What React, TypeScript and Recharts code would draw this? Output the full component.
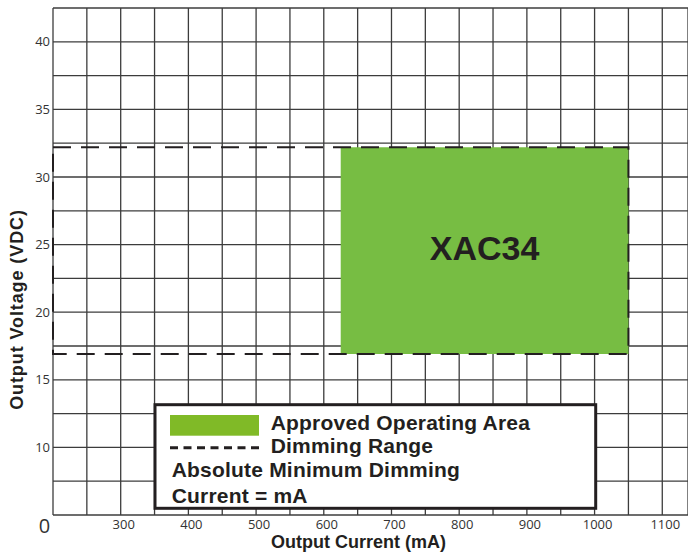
import React from 'react';
import { ComposedChart, XAxis, YAxis, CartesianGrid, ReferenceArea } from 'recharts';

// ---- data ----
const xDomain = [200, 1138];
const yDomain = [5, 42.5];
const xGridTicks = [200, 250, 300, 350, 400, 450, 500, 550, 600, 650, 700, 750, 800, 850, 900, 950, 1000, 1050, 1100];
const xLabelTicks = [300, 400, 500, 600, 700, 800, 900, 1000, 1100];
const originLabel = '0';
const yGridTicks = [5, 7.5, 10, 12.5, 15, 17.5, 20, 22.5, 25, 27.5, 30, 32.5, 35, 37.5, 40];
const yLabelTicks = [10, 15, 20, 25, 30, 35, 40];
const approvedCurrent = [625, 1050];
const approvedVoltage = [16.9, 32.2];
const dimmingCurrent = [200, 1050];
const dimmingVoltage = [16.9, 32.2];
const modelName = 'XAC34';
const xTitle = 'Output Current (mA)';
const yTitle = 'Output Voltage (VDC)';
const legendItems = ['Approved Operating Area', 'Dimming Range'];
const legendNote = ['Absolute Minimum Dimming', 'Current = mA'];

const TEXT = '#231f20';
const BOLD = 'Liberation Sans, Arial, sans-serif';
const TICKFONT = 'Open Sans, sans-serif';

const XTick = (props: any) => {
  const { x, y, payload } = props;
  const v = payload.value;
  if (v === xDomain[0]) {
    return (
      <text x={x - 8.5} y={y + 10} textAnchor="middle" fontSize={20} fontFamily={TICKFONT} fill="#333">
        {originLabel}
      </text>
    );
  }
  if (!xLabelTicks.includes(v)) return <g />;
  return (
    <text x={x + 3} y={y + 6} textAnchor="middle" fontSize={13} fontFamily={TICKFONT} fill="#333">
      {v}
    </text>
  );
};

const YTick = (props: any) => {
  const { x, y, payload } = props;
  const v = payload.value;
  if (!yLabelTicks.includes(v)) return <g />;
  return (
    <text x={x + 5} y={y} dy="0.36em" textAnchor="end" fontSize={13} fontFamily={TICKFONT} fill="#333">
      {v}
    </text>
  );
};

const XTitle = (props: any) => {
  const vb = props.viewBox;
  return (
    <text x={vb.x + vb.width / 2 - 12} y={vb.y + 33} textAnchor="middle" fontSize={18} fontWeight="bold" fontFamily={BOLD} fill={TEXT}>
      {xTitle}
    </text>
  );
};

const YTitle = (props: any) => {
  const vb = props.viewBox;
  const cx = 22.5;
  const cy = vb.y + vb.height / 2 + 48;
  return (
    <text x={cx} y={cy} transform={`rotate(-90 ${cx} ${cy})`} textAnchor="middle" fontSize={18} letterSpacing={0.9} fontWeight="bold" fontFamily={BOLD} fill={TEXT}>
      {yTitle}
    </text>
  );
};

const ModelLabel = (props: any) => {
  const vb = props.viewBox;
  return (
    <text x={vb.x + vb.width / 2} y={vb.y + vb.height / 2 + 9} textAnchor="middle" fontSize={34} fontWeight="bold" fontFamily={BOLD} fill={TEXT}>
      {modelName}
    </text>
  );
};

const LegendBox = () => (
  <svg width={450} height={113} style={{ position: 'absolute', left: 150, top: 400 }}>
    <rect x={5} y={4.7} width={440.7} height={103.6} fill="#fff" stroke={TEXT} strokeWidth={3} />
    <rect x={20} y={15} width={89} height={20.7} fill="#80ba27" />
    <line x1={20} x2={109} y1={47.7} y2={47.7} stroke={TEXT} strokeWidth={3} strokeDasharray="8 5.5" />
    <text x={120.7} y={30} fontSize={21} letterSpacing={0.2} fontWeight="bold" fontFamily={BOLD} fill={TEXT}>{legendItems[0]}</text>
    <text x={120.7} y={53} fontSize={21} letterSpacing={0.2} fontWeight="bold" fontFamily={BOLD} fill={TEXT}>{legendItems[1]}</text>
    <text x={21.7} y={77} fontSize={21} letterSpacing={0.2} fontWeight="bold" fontFamily={BOLD} fill={TEXT}>{legendNote[0]}</text>
    <text x={21.7} y={103} fontSize={21} letterSpacing={0.2} fontWeight="bold" fontFamily={BOLD} fill={TEXT}>{legendNote[1]}</text>
  </svg>
);

export default function App() {
  return (
    <div style={{ position: 'absolute', left: 0, top: 0, width: 688, height: 554, background: '#fff' }}>
      <ComposedChart width={688} height={554} data={[]} margin={{ top: 8, right: 0, bottom: 0, left: 0 }}>
        <CartesianGrid stroke="#3c3c3c" strokeWidth={1.3} />
        <XAxis
          type="number"
          dataKey="x"
          domain={xDomain}
          ticks={xGridTicks}
          tick={<XTick />}
          tickLine={false}
          axisLine={false}
          height={39}
          allowDataOverflow
          interval={0}
          label={<XTitle />}
        />
        <YAxis
          type="number"
          domain={yDomain}
          ticks={yGridTicks}
          tick={<YTick />}
          tickLine={false}
          axisLine={false}
          width={53}
          allowDataOverflow
          interval={0}
          label={<YTitle />}
        />
        <ReferenceArea
          x1={approvedCurrent[0]}
          x2={approvedCurrent[1]}
          y1={approvedVoltage[0]}
          y2={approvedVoltage[1]}
          fill="#77bd43"
          fillOpacity={1}
          stroke="none"
          label={<ModelLabel />}
          ifOverflow="visible"
        />
        <ReferenceArea
          x1={dimmingCurrent[0]}
          x2={dimmingCurrent[1]}
          y1={dimmingVoltage[0]}
          y2={dimmingVoltage[1]}
          fill="none"
          fillOpacity={0}
          stroke={TEXT}
          strokeWidth={2}
          strokeDasharray="18 10"
          ifOverflow="visible"
        />
      </ComposedChart>
      <LegendBox />
    </div>
  );
}
